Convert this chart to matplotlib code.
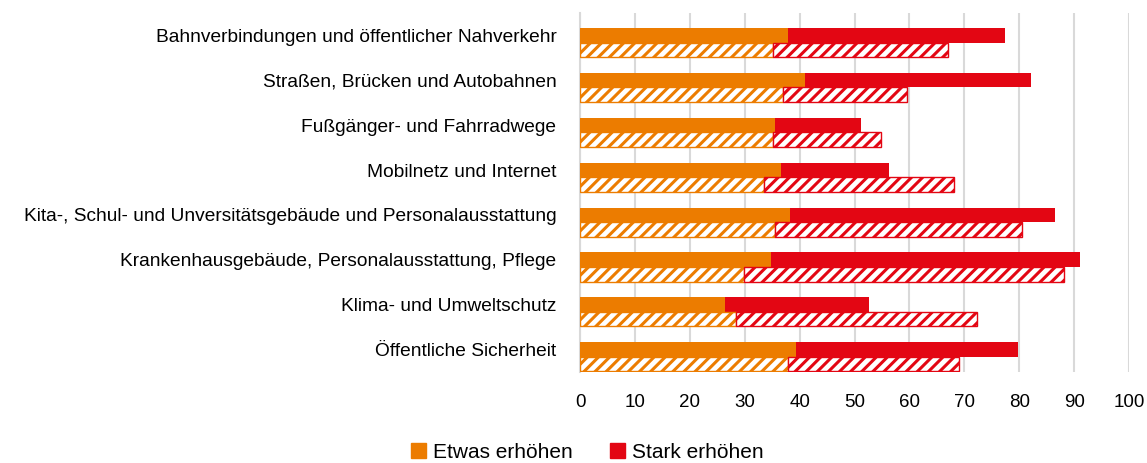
import numpy as np
import matplotlib.pyplot as plt
from matplotlib.patches import Patch

# categories top to bottom
categories = [
    "Bahnverbindungen und öffentlicher Nahverkehr",
    "Straßen, Brücken und Autobahnen",
    "Fußgänger- und Fahrradwege",
    "Mobilnetz und Internet",
    "Kita-, Schul- und Unversitätsgebäude und Personalausstattung",
    "Krankenhausgebäude, Personalausstattung, Pflege",
    "Klima- und Umweltschutz",
    "Öffentliche Sicherheit",
]

# solid bars (upper bar of each pair)
etwas_solid = [37.8, 40.9, 35.6, 36.6, 38.2, 34.7, 26.4, 39.4]
stark_solid = [39.7, 41.2, 15.5, 19.7, 48.4, 56.4, 26.2, 40.4]

# hatched bars (lower bar of each pair)
etwas_hatch = [35.2, 36.9, 35.2, 33.5, 35.6, 29.8, 28.5, 37.8]
stark_hatch = [31.9, 22.6, 19.6, 34.6, 45.0, 58.4, 43.9, 31.2]

xticks = [0, 10, 20, 30, 40, 50, 60, 70, 80, 90, 100]

orange = '#ec7c00'
red = '#e30613'

plt.rcParams['font.family'] = ['Liberation Sans', 'DejaVu Sans']
plt.rcParams['hatch.linewidth'] = 2.2

fig = plt.figure(figsize=(11.47, 4.63), dpi=100)
ax = fig.add_axes([580 / 1147, 1 - 372 / 463, 549 / 1147, 359 / 463])

y = np.arange(len(categories))
h = 0.325
off = 0.16

# solid pair
ax.barh(y + off - h / 2, etwas_solid, height=h, color=orange, zorder=3)
ax.barh(y + off - h / 2, stark_solid, left=etwas_solid, height=h, color=red, zorder=3)

# hatched pair
ax.barh(y + off + h / 2, etwas_hatch, height=h, color='white', edgecolor=orange,
        hatch='///', linewidth=1, zorder=3)
ax.barh(y + off + h / 2, stark_hatch, left=etwas_hatch, height=h, color='white',
        edgecolor=red, hatch='///', linewidth=1, zorder=3)

ax.set_xlim(0, 100)
ax.set_ylim(7.5, -0.5)
ax.set_xticks(xticks)
ax.set_yticks(y)
ax.set_yticklabels(categories, fontsize=13.8)
ax.tick_params(axis='x', labelsize=13.5, length=0, pad=16)
ax.tick_params(axis='y', length=0, pad=17)

ax.grid(axis='x', color='#d9d9d9', linewidth=1.5, zorder=0)
for s in ['top', 'right', 'bottom']:
    ax.spines[s].set_visible(False)
ax.spines['left'].set_color('#d9d9d9')
ax.spines['left'].set_linewidth(1.5)

handles = [Patch(color=orange, label='Etwas erhöhen'),
           Patch(color=red, label='Stark erhöhen')]
fig.legend(handles=handles, loc='center', bbox_to_anchor=(587 / 1147, 1 - 452 / 463),
           ncol=2, frameon=False, fontsize=15, handlelength=0.75, handleheight=0.75,
           handletextpad=0.3, columnspacing=1.8)

fig.savefig('out.png', dpi=100)
